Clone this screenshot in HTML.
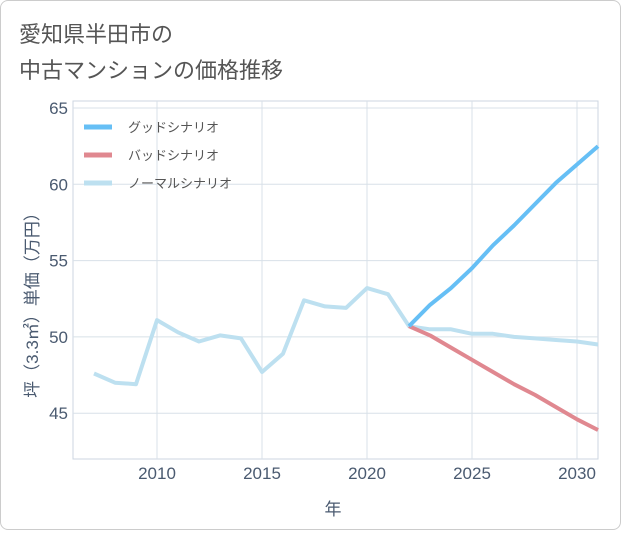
<!DOCTYPE html>
<html><head><meta charset="utf-8"><style>
body{margin:0;background:#fff;}
.card{position:absolute;left:0;top:0;width:619px;height:528px;border:1px solid #ccc;border-radius:8px;background:#fff;}
text{font-family:"Liberation Sans","Noto Sans CJK JP",sans-serif;}
</style></head><body>
<div class="card">
<svg id="chart" width="621" height="530">
<text x="18" y="41" font-size="22" fill="#555">愛知県半田市の</text>
<text x="18" y="77" font-size="22" fill="#555">中古マンションの価格推移</text>
<g id="grid"></g><g id="axes"></g><g id="series"></g><g id="legend"></g>
<text x="332" y="514" font-size="17" fill="#4a5a70" text-anchor="middle">年</text>
<text transform="translate(37,300) rotate(-90)" font-size="17" fill="#4a5a70" text-anchor="middle">坪（3.3㎡）単価（万円）</text>
</svg></div>
<script>
const years=[2007,2008,2009,2010,2011,2012,2013,2014,2015,2016,2017,2018,2019,2020,2021,2022,2023,2024,2025,2026,2027,2028,2029,2030,2031];
const normal=[47.6,47.0,46.9,51.1,50.3,49.7,50.1,49.9,47.7,48.9,52.4,52.0,51.9,53.2,52.8,50.7,50.5,50.5,50.2,50.2,50.0,49.9,49.8,49.7,49.5];
const futureYears=[2022,2023,2024,2025,2026,2027,2028,2029,2030,2031];
const good=[50.7,52.1,53.2,54.5,56.0,57.3,58.7,60.1,61.3,62.5];
const bad=[50.7,50.1,49.3,48.5,47.7,46.9,46.2,45.4,44.6,43.9];
const xTicks=[2010,2015,2020,2025,2030];
const yTicks=[45,50,55,60,65];
const L=72,R=597,T=100,B=458;
const x=v=>156+(v-2010)*21;
const y=v=>107+(65-v)*15.26;
const ns="http://www.w3.org/2000/svg";
function mk(p,tag,at){const e=document.createElementNS(ns,tag);for(const k in at)e.setAttribute(k,at[k]);document.getElementById(p).appendChild(e);return e;}
const fr=mk('grid','rect',{x:L,y:T,width:R-L,height:B-T,fill:'none',stroke:'#ccd6e0'});


xTicks.forEach(t=>{const g=mk('grid','line',{x1:x(t),x2:x(t),y1:T,y2:B,stroke:'#d8e0e8'});


const tx=mk('axes','text',{x:x(t),y:B+20,'font-size':17,fill:'#4a5a70','text-anchor':'middle'});tx.textContent=t;

});
yTicks.forEach(t=>{const g=mk('grid','line',{x1:L,x2:R,y1:y(t),y2:y(t),stroke:'#d8e0e8'});


const tx=mk('axes','text',{x:L-5,y:y(t)+6,'font-size':17,fill:'#4a5a70','text-anchor':'end'});tx.textContent=t;

});
function line(xs,vs,color,name){const d=xs.map((a,i)=>(i?'L':'M')+x(a).toFixed(1)+','+y(vs[i]).toFixed(1)).join('');
const p=mk('series','path',{d:d,fill:'none',stroke:color,'stroke-width':4,'stroke-linejoin':'round'});

}
line(years,normal,'#bde0f0','normal-scenario-line');
line(futureYears,bad,'#e08890','bad-scenario-line');
line(futureYears,good,'#66bff5','good-scenario-line');
const leg=[['グッドシナリオ','#66bff5'],['バッドシナリオ','#e08890'],['ノーマルシナリオ','#bde0f0']];
leg.forEach((l,i)=>{const yy=126+i*28;
const s=mk('legend','line',{x1:83,x2:111,y1:yy,y2:yy,stroke:l[1],'stroke-width':5});


const t=mk('legend','text',{x:127,y:yy+5,'font-size':13,fill:'#555'});t.textContent=l[0];

});
</script>
</body></html>
